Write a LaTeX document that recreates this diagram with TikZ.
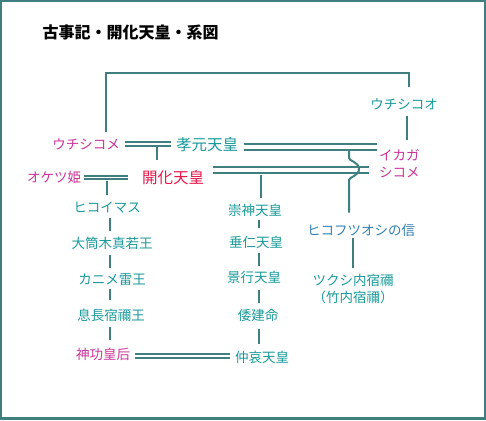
\documentclass[tikz,border=0pt]{standalone}
\usepackage{fontspec}
\setmainfont{Noto Sans CJK JP}
\usetikzlibrary{calc}
\definecolor{lineteal}{HTML}{3F7F7F}
\definecolor{nameteal}{HTML}{1A9A9A}
\definecolor{wifepink}{HTML}{CC3399}
\definecolor{kingred}{HTML}{E8174A}
\definecolor{nameblue}{HTML}{3380B3}
\begin{document}
\begin{tikzpicture}[
  x=1pt, y=-1pt,
  every node/.style={inner sep=0pt,text=nameteal,font=\fontsize{13.5}{17}\selectfont},
  wife/.style={text=wifepink},
  big/.style={font=\fontsize{15.5}{17}\selectfont},
  link/.style={draw=lineteal,line width=2pt},
  marriage/.style={draw=lineteal,double=white,double distance=1.5pt,line width=2pt},
  wideMarriage/.style={marriage,double distance=3.75pt}
]%
  \useasboundingbox (0,0) rectangle (486,420);
  \draw[lineteal,line width=2.4pt] (1,1.2) rectangle (485,418.5);

  \node[text=black,font=\fontsize{16}{16}\selectfont\bfseries] (nTitle) at (130.5,32) {古事記・開化天皇・系図};

  \node[wife] (nUchishikome) at (86,144) {ウチシコメ};
  \node (nUchishikoo) at (404,104) {ウチシコオ};
  \node[big] (nKogen) at (207,144.5) {孝元天皇};
  \node[wife] (nOkatsu) at (54,177.5) {オケツ姫};
  \node[big,text=kingred] (nKaika) at (173,177.5) {開化天皇};
  \node[wife,anchor=west,align=left] (nIkaga) at (379,163.5) {イカガ\\シコメ};
  \node[text=nameblue] (nHikofutsu) at (361,230) {ヒコフツオシの信};
  \node[align=center] (nTsukushi) at (353,288.5) {ツクシ内宿禰\\（竹内宿禰）};

  \node (nHikoimasu) at (107,208) {ヒコイマス};
  \node (nOtsutsuki) at (112,243) {大筒木真若王};
  \node (nKanime) at (112,280) {カニメ雷王};
  \node (nOkinaga) at (111,315) {息長宿禰王};
  \node[wife] (nJingu) at (103,354) {神功皇后};

  \node (nSujin) at (255,210) {崇神天皇};
  \node (nSuinin) at (256,242) {垂仁天皇};
  \node (nKeiko) at (254,277) {景行天皇};
  \node (nYamato) at (258,315) {倭建命};
  \node (nChuai) at (262,357) {仲哀天皇};

  \coordinate (cTop) at (409,73);
  \coordinate (cA) at (157,144);
  \coordinate (cB) at (107,178);
  \coordinate (cC) at (349,147);
  \coordinate (cD) at (261,170.3);
  \coordinate (cLeft) at (109.5,0);
  \coordinate (cRight) at (259,0);

  \draw[link] ([xshift=20pt,yshift=6pt]nUchishikome.north) |- (cTop) -- ([yshift=11pt]nUchishikoo.north -| cTop);
  \draw[link,shorten <=6pt,shorten >=9pt] ([xshift=3pt]nUchishikoo.south) -- ([xshift=3pt]nUchishikoo.south |- nIkaga.north);

  \draw[marriage,shorten <=5pt,shorten >=5pt] (nUchishikome.east) -- (nUchishikome.east -| nKogen.west);
  \draw[marriage,shorten <=3pt,shorten >=14pt] (nOkatsu.east) -- (nOkatsu.east -| nKaika.west);
  \draw[marriage,shorten <=5pt,shorten >=5pt] ([yshift=-2pt]nJingu.east) -- ([yshift=-2pt]nJingu.east -| nChuai.west);
  \draw[wideMarriage,shorten <=6pt,shorten >=2pt] ([yshift=-2.5pt]nKogen.east) -- ([yshift=-2.5pt]nKogen.east -| nIkaga.west);
  \draw[wideMarriage,shorten <=9pt,shorten >=10pt] ([yshift=7.2pt]nKaika.east) -- ([yshift=7.2pt]nKaika.east -| nIkaga.west);

  \draw[link,shorten <=2.75pt,shorten >=10pt] (cA) -- (cA |- nKaika.north);
  \draw[link,shorten <=2.75pt,shorten >=7pt] (cB) -- (cB |- nHikoimasu.north);
  \draw[link,shorten <=4.6pt,shorten >=6pt] (cD) -- (cD |- nSujin.north);
  \draw[link,shorten <=3.75pt,shorten >=11pt] (cC) -- ++(0,11) .. controls +(0,3) and +(0,-7) .. ++(10,11) .. controls +(0,7) and +(0,-3) .. ++(-10,11) -- (cC |- nHikofutsu.north);
  \draw[link,shorten <=2pt,shorten >=5pt] (nHikofutsu.south -| nTsukushi.north) -- (nTsukushi.north);

  \draw[link,shorten <=4pt,shorten >=6pt] (nHikoimasu.south -| cLeft) -- (nOtsutsuki.north -| cLeft);
  \draw[link,shorten <=6pt,shorten >=6pt] (nOtsutsuki.south -| cLeft) -- (nKanime.north -| cLeft);
  \draw[link,shorten <=3pt,shorten >=9pt] (nKanime.south -| cLeft) -- (nOkinaga.north -| cLeft);
  \draw[link,shorten <=5pt,shorten >=8pt] (nOkinaga.south -| cLeft) -- (nJingu.north -| cLeft);

  \draw[link,shorten <=3.5pt,shorten >=8pt] (nSujin.south -| cRight) -- (nSuinin.north -| cRight);
  \draw[link,shorten <=4.5pt,shorten >=4.5pt] (nSuinin.south -| cRight) -- (nKeiko.north -| cRight);
  \draw[link,shorten <=6.5pt,shorten >=5.5pt] (nKeiko.south -| cRight) -- (nYamato.north -| cRight);
  \draw[link,shorten <=8pt,shorten >=7pt] (nYamato.south -| cRight) -- (nChuai.north -| cRight);
\end{tikzpicture}
\end{document}
